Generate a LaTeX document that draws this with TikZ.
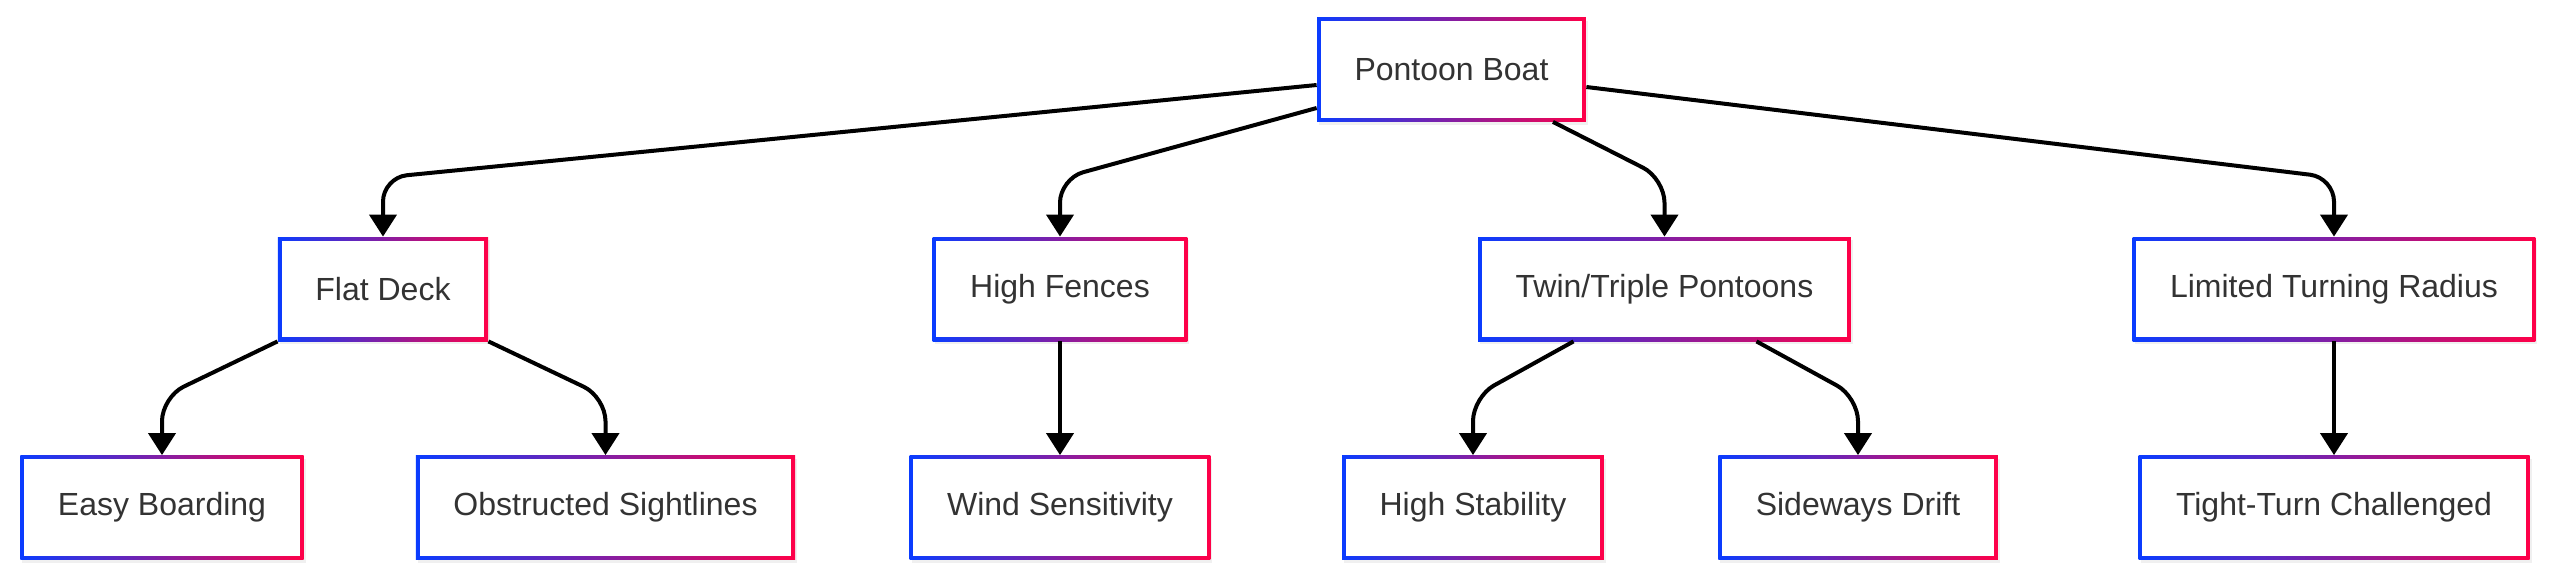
\documentclass[tikz,border=0pt]{standalone}
\usepackage{fontspec}
\setmainfont{Liberation Sans}
\usepackage{tikz}
\usetikzlibrary{positioning,arrows.meta,shadows}
\definecolor{boxblue}{RGB}{10,60,255}
\definecolor{boxred}{RGB}{255,0,72}
\definecolor{labelgray}{RGB}{51,51,51}

\begin{document}
\begin{tikzpicture}[x=0.5pt,y=-0.5pt,
  card/.style={rectangle,inner xsep=18.75pt,inner ysep=0pt,minimum height=52pt,
    text=labelgray,font=\fontsize{16}{19}\selectfont,
    drop shadow={shadow xshift=1pt,shadow yshift=-1.5pt,opacity=0.12},
    path picture={
      \shade[left color=boxblue,right color=boxred]
        (path picture bounding box.south west) rectangle (path picture bounding box.north east);
      \fill[white] ([shift={(1.8pt,1.8pt)}]path picture bounding box.south west)
        rectangle ([shift={(-1.8pt,-1.8pt)}]path picture bounding box.north east);
    }},
  link/.style={line width=2pt,rounded corners=12pt,-{Triangle[width=13.5pt,length=11pt]}}]
\useasboundingbox (0,0) rectangle (2560,579);

% Top
\node[card] (boat) at (1451.5,69.5) {Pontoon Boat};

% Features
\node[card] (deck) at (383,289) {Flat Deck};
\node[card] (fences) at (1060,289) {High Fences};
\node[card] (hulls) at (1664.5,289) {Twin/Triple Pontoons};
\node[card] (radius) at (2334,289) {Limited Turning Radius};

% Effects
\node[card] (boarding) at (162,507.5) {Easy Boarding};
\node[card] (sight) at (605.5,507.5) {Obstructed Sightlines};
\node[card] (wind) at (1060,507.5) {Wind Sensitivity};
\node[card] (stable) at (1473,507.5) {High Stability};
\node[card] (drift) at (1858,507.5) {Sideways Drift};
\node[card] (tight) at (2334,507.5) {Tight-Turn Challenged};

% Boat to features
\draw[link] ([yshift=-7.75pt]boat.west) -- ([yshift=29.5pt]deck.north) -- (deck.north);
\draw[link] ([yshift=-19.25pt]boat.west) -- ([yshift=29pt]fences.north) -- (fences.north);
\draw[link] ([xshift=50.75pt]boat.south) -- ([yshift=29pt]hulls.north) -- (hulls.north);
\draw[link] ([yshift=-8.75pt]boat.east) -- ([yshift=29.5pt]radius.north) -- (radius.north);

% Features to effects
\draw[link] (deck.south west) -- ([yshift=29pt]boarding.north) -- (boarding.north);
\draw[link] (deck.south east) -- ([yshift=29pt]sight.north) -- (sight.north);
\draw[link] (fences.south) -- (wind.north);
\draw[link] ([xshift=-45.5pt]hulls.south) -- ([yshift=29pt]stable.north) -- (stable.north);
\draw[link] ([xshift=46pt]hulls.south) -- ([yshift=29pt]drift.north) -- (drift.north);
\draw[link] (radius.south) -- (tight.north);
\end{tikzpicture}
\end{document}
